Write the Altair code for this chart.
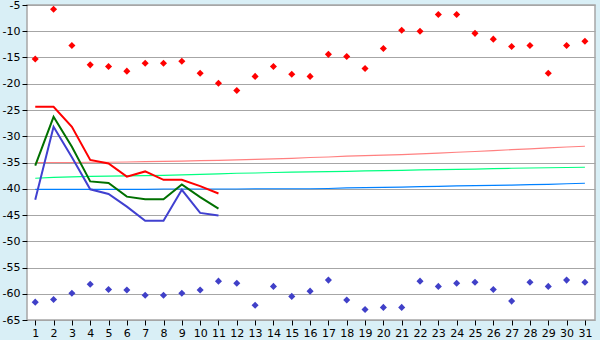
import altair as alt
import pandas as pd

days = list(range(1, 32))
max_vals = [-15.3, -5.8, -12.7, -16.4, -16.7, -17.6, -16.1, -16.1, -15.7, -18.0, -19.9,
            -21.3, -18.6, -16.7, -18.2, -18.6, -14.4, -14.8, -17.1, -13.3, -9.8, -10.0,
            -6.8, -6.8, -10.4, -11.5, -12.9, -12.7, -18.0, -12.7, -11.9]
min_vals = [-61.6, -61.1, -59.9, -58.2, -59.2, -59.3, -60.3, -60.3, -59.9, -59.3, -57.6,
            -58.0, -62.2, -58.6, -60.5, -59.5, -57.4, -61.2, -63.0, -62.6, -62.6, -57.6,
            -58.6, -58.0, -57.8, -59.2, -61.4, -57.8, -58.6, -57.4, -57.8]

obs_days = list(range(1, 12))
tmax_line = [-24.4, -24.4, -28.2, -34.5, -35.2, -37.7, -36.7, -38.3, -38.3, -39.5, -40.9]
tmean_line = [-35.6, -26.3, -32.0, -38.6, -38.9, -41.5, -42.0, -42.0, -39.2, -41.6, -43.8]
tmin_line = [-42.1, -28.2, -34.0, -40.1, -41.0, -43.4, -46.1, -46.1, -40.2, -44.6, -45.1]

norm_max = [-35.0, -35.0, -35.0, -34.95, -34.95, -34.9, -34.85, -34.8, -34.75, -34.65, -34.6,
            -34.5, -34.4, -34.3, -34.2, -34.05, -33.95, -33.8, -33.7, -33.6, -33.5, -33.35,
            -33.2, -33.05, -32.9, -32.75, -32.55, -32.4, -32.2, -32.05, -31.9]
norm_mean = [-38.0, -37.85, -37.75, -37.65, -37.6, -37.55, -37.5, -37.45, -37.35, -37.25, -37.15,
             -37.05, -37.0, -36.9, -36.85, -36.8, -36.75, -36.7, -36.6, -36.55, -36.5, -36.4,
             -36.35, -36.3, -36.25, -36.15, -36.1, -36.05, -36.0, -35.95, -35.9]
norm_min = [-40.1, -40.1, -40.1, -40.1, -40.1, -40.1, -40.1, -40.05, -40.05, -40.05, -40.05,
            -40.05, -40.0, -40.0, -40.0, -40.0, -39.95, -39.85, -39.8, -39.75, -39.7, -39.6,
            -39.55, -39.45, -39.4, -39.35, -39.3, -39.2, -39.15, -39.05, -38.95]

full = pd.DataFrame({"day": days, "max": max_vals, "min": min_vals,
                     "nmax": norm_max, "nmean": norm_mean, "nmin": norm_min})
obs = pd.DataFrame({"day": obs_days, "tmax": tmax_line, "tmean": tmean_line, "tmin": tmin_line})

xscale = alt.Scale(domain=[0.55, 31.55], nice=False, zero=False)
yscale = alt.Scale(domain=[-65, -5], nice=False, zero=False)

xaxis = alt.Axis(values=days, grid=False, domain=False, tickSize=5, tickColor="#000000",
                 labelFontSize=11, labelFont="DejaVu Sans", labelColor="#000000",
                 labelPadding=2, title=None, labelFlush=False, labelOverlap=False)
yaxis = alt.Axis(values=list(range(-65, 0, 5)), grid=True, gridColor="#a6a6a6", gridWidth=1.2,
                 domain=False, tickSize=5, tickColor="#000000", labelFontSize=11,
                 labelFont="DejaVu Sans", labelColor="#000000", labelPadding=2, title=None,
                 labelFlush=False, labelOverlap=False, labelExpr="toString(datum.value)")

X = alt.X("day:Q", scale=xscale, axis=xaxis, title=None)


def line(df, field, color, width):
    return alt.Chart(df).mark_line(color=color, strokeWidth=width).encode(
        x=X,
        y=alt.Y(f"{field}:Q", scale=yscale, axis=yaxis, title=None),
    )


def pts(field, color):
    return alt.Chart(full).mark_point(shape="diamond", filled=True, size=50, color=color,
                                      opacity=1).encode(
        x=X,
        y=alt.Y(f"{field}:Q", scale=yscale, axis=yaxis, title=None),
    )


chart = alt.layer(
    line(full, "nmax", "#ff8080", 1.2),
    line(full, "nmean", "#00ff80", 1.2),
    line(full, "nmin", "#0080ff", 1.2),
    line(obs, "tmax", "#ff0000", 2),
    line(obs, "tmean", "#007000", 2),
    line(obs, "tmin", "#4040d0", 2),
    pts("max", "#ff0000"),
    pts("min", "#4040c8"),
).properties(
    width=568, height=315,
    autosize=alt.AutoSizeParams(type="none"),
    padding={"left": 27, "top": 5, "right": 5, "bottom": 20},
    background="#d9eff6",
).configure_view(fill="#ffffff", stroke="#a6a6a6", strokeWidth=1.5)

chart.save("out.html", embed_options={"renderer": "svg", "actions": False})
